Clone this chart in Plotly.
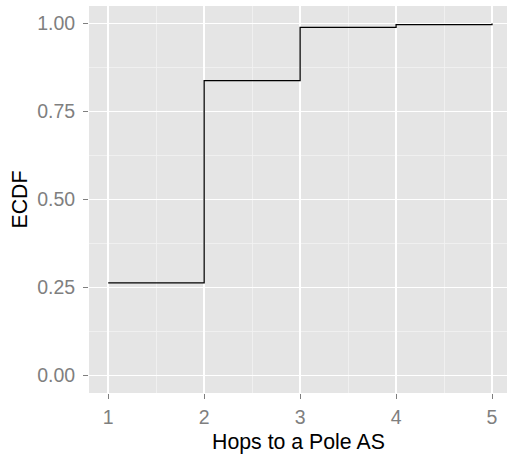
import plotly.graph_objects as go

hops = [1, 2, 3, 4, 5]
ecdf = [0.263, 0.838, 0.989, 0.997, 1.0]
x_ticks = [1, 2, 3, 4, 5]
y_ticks = [0.0, 0.25, 0.5, 0.75, 1.0]
y_tick_labels = ["0.00", "0.25", "0.50", "0.75", "1.00"]

fig = go.Figure()
fig.add_trace(go.Scatter(x=hops, y=ecdf, mode="lines", line_shape="hv",
                         line=dict(color="black", width=1.3), showlegend=False,
                         hoverinfo="skip"))

grid_major = "#FFFFFF"
grid_minor = "#F2F2F2"
FONT = "Liberation Sans, Arial, Helvetica, sans-serif"
tick_font = dict(family=FONT, size=19.5, color="#7F7F7F")

fig.update_layout(
    width=507, height=457,
    margin=dict(l=89, r=0, t=6, b=64),
    paper_bgcolor="white", plot_bgcolor="#E5E5E5",
    xaxis=dict(range=[0.8, 5.156], tickvals=x_ticks, ticks="outside", ticklen=5,
               tickcolor="#7F7F7F", tickwidth=1, tickfont=tick_font, ticklabelstandoff=2,
               showgrid=True, gridcolor=grid_major, gridwidth=1.6, zeroline=False,
               showline=False,
               minor=dict(tick0=0.5, dtick=1, showgrid=True, gridcolor=grid_minor, gridwidth=0.8, ticks="")),
    yaxis=dict(range=[-0.05, 1.05], tickvals=y_ticks, ticktext=y_tick_labels,
               ticks="outside", ticklen=5, tickcolor="#7F7F7F", tickwidth=1,
               tickfont=tick_font, ticklabelstandoff=4, showgrid=True, gridcolor=grid_major, gridwidth=1.6,
               zeroline=False, showline=False,
               minor=dict(tick0=0.125, dtick=0.25, showgrid=True, gridcolor=grid_minor, gridwidth=0.8, ticks="")),
    annotations=[
        dict(text="Hops to a Pole AS", xref="paper", yref="paper", x=0.5, y=0,
             xanchor="center", yanchor="middle", yshift=-49, showarrow=False,
             borderpad=0, font=dict(family=FONT, size=21.3, color="black")),
        dict(text="ECDF", xref="paper", yref="paper", x=0, y=0.5, textangle=-90,
             xanchor="center", yanchor="middle", xshift=-70, showarrow=False,
             font=dict(family=FONT, size=21.3, color="black")),
    ],
)

fig.write_html("out.html", config={"displayModeBar": False, "staticPlot": True},
               post_script="document.body.style.margin='0';document.body.style.overflow='hidden';")
